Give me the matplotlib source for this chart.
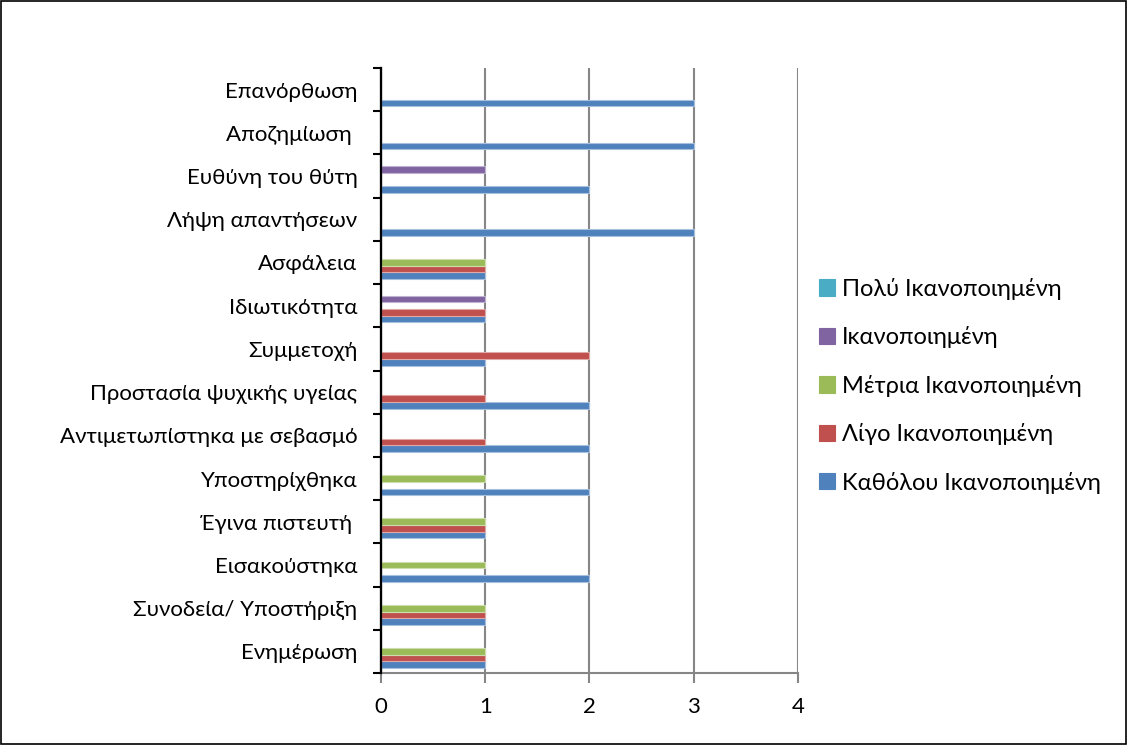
import matplotlib
matplotlib.use("Agg")
import matplotlib.pyplot as plt
from matplotlib.patches import Rectangle
import numpy as np

plt.rcParams['font.family'] = ['Lato', 'DejaVu Sans']

categories = ["Ενημέρωση", "Συνοδεία/ Υποστήριξη", "Εισακούστηκα", "Έγινα πιστευτή ",
              "Υποστηρίχθηκα", "Αντιμετωπίστηκα με σεβασμό", "Προστασία ψυχικής υγείας",
              "Συμμετοχή", "Ιδιωτικότητα", "Ασφάλεια", "Λήψη απαντήσεων",
              "Ευθύνη του θύτη", "Αποζημίωση ", "Επανόρθωση"]
series_names = ["Καθόλου Ικανοποιημένη", "Λίγο Ικανοποιημένη", "Μέτρια Ικανοποιημένη",
                "Ικανοποιημένη", "Πολύ Ικανοποιημένη"]
katholou = [1, 1, 2, 1, 2, 2, 2, 1, 1, 1, 3, 2, 3, 3]
ligo     = [1, 1, 0, 1, 0, 1, 1, 2, 1, 1, 0, 0, 0, 0]
metria   = [1, 1, 1, 1, 1, 0, 0, 0, 0, 1, 0, 0, 0, 0]
ikano    = [0, 0, 0, 0, 0, 0, 0, 0, 1, 0, 0, 1, 0, 0]
poly     = [0, 0, 0, 0, 0, 0, 0, 0, 0, 0, 0, 0, 0, 0]
xticks = [0, 1, 2, 3, 4]

colors = ["#4F81BD", "#C0504D", "#9BBB59", "#8064A2", "#4BACC6"]
edge_colors = ["#A7C0DE", "#E0A8A6", "#CDDDAC", "#BFB1D0", "#A5D5E2"]

fig = plt.figure(figsize=(11.28, 7.45), dpi=100)
fig.patches.append(Rectangle((0.0005, 0.001), 0.998, 0.997, transform=fig.transFigure,
                             fill=False, edgecolor="black", linewidth=1.2))
ax = fig.add_axes([0.3378, 0.0966, 0.3696, 0.8121])

all_series = [katholou, ligo, metria, ikano, poly]
n = len(all_series)
slot = 1 / 6.5
y = np.arange(len(categories))
for i, (vals, c, ec, name) in enumerate(zip(all_series, colors, edge_colors, series_names)):
    offs = (i - (n - 1) / 2) * slot
    ax.barh(y + offs, vals, height=slot, color=c, edgecolor=ec, linewidth=0.8,
            label=name, zorder=3)

FS = 16
ax.set_xlim(0, 4)
ax.set_ylim(-0.5, len(categories) - 0.5)
ax.set_xticks(xticks)
ax.set_xticklabels([str(t) for t in xticks], fontsize=FS)
ax.set_yticks(np.arange(len(categories) + 1) - 0.5)
ax.set_yticklabels([])
ax.set_yticks(y, minor=True)
ax.set_yticklabels(categories, minor=True, fontsize=FS)
ax.tick_params(axis='y', which='minor', length=0, pad=17)
ax.tick_params(axis='y', which='major', length=6, width=1.5, color='black', direction='out')
ax.tick_params(axis='x', length=7, width=1.5, color='#868686', pad=10)

ax.grid(axis='x', color='#868686', linewidth=1.5, zorder=0)
ax.axvline(0, color='black', linewidth=1.6, zorder=5, clip_on=False)
ax.spines['top'].set_visible(False)
ax.spines['right'].set_visible(False)
ax.spines['left'].set_color('black')
ax.spines['left'].set_linewidth(1.5)
ax.spines['bottom'].set_color('#868686')
ax.spines['bottom'].set_linewidth(1.5)

handles, labels = ax.get_legend_handles_labels()
leg = fig.legend(handles[::-1], labels[::-1], loc='upper left',
                 bbox_to_anchor=(0.726, 0.627), frameon=False, fontsize=17,
                 handlelength=0.68, handleheight=0.68, handletextpad=0.3,
                 labelspacing=1.12, borderpad=0, borderaxespad=0)
for h in leg.legend_handles:
    h.set_edgecolor(h.get_facecolor())

fig.savefig("out.png", dpi=100)
